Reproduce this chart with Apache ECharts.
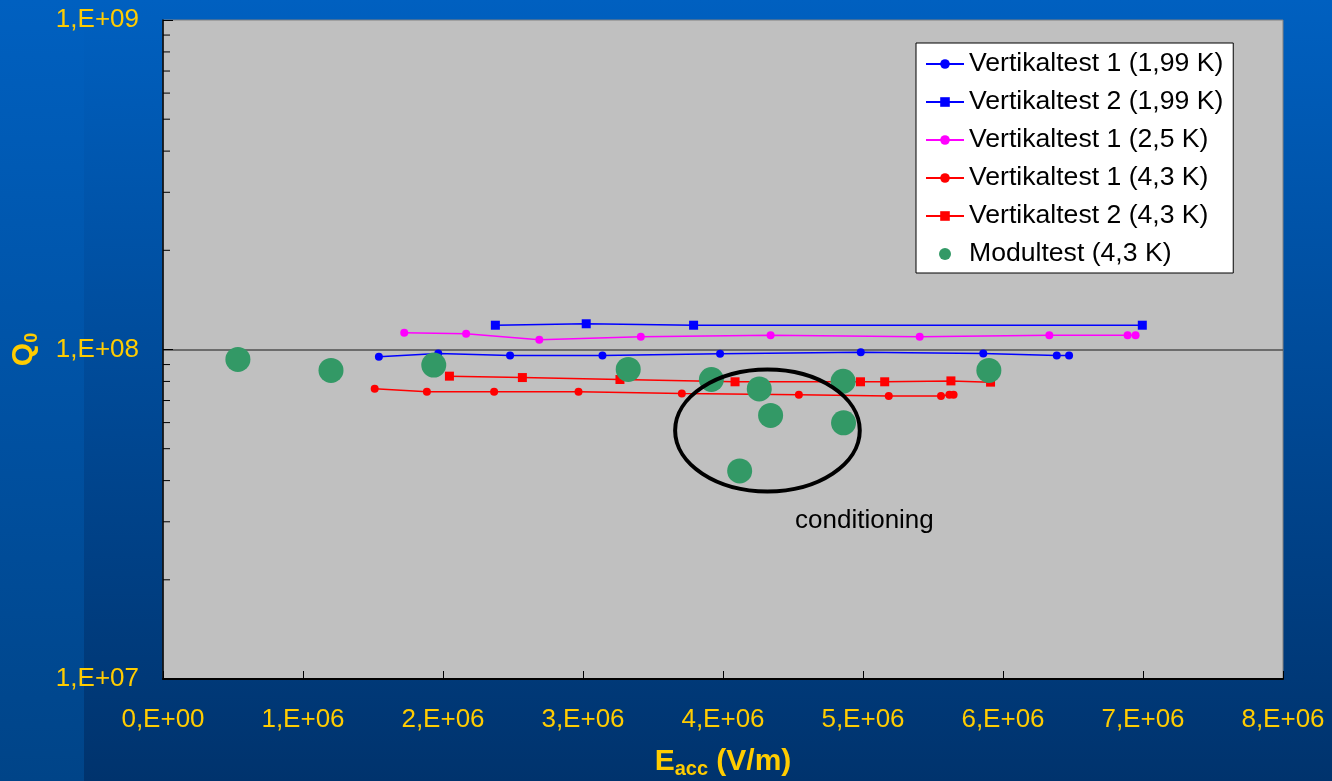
<!DOCTYPE html>
<html><head><meta charset="utf-8">
<script src="https://cdn.jsdelivr.net/npm/echarts@6/dist/echarts.min.js"></script>
<style>
html,body{margin:0;padding:0;width:1332px;height:781px;overflow:hidden;}
body{background:linear-gradient(to bottom,#0060c0,#00336d);position:relative;}
#strip{position:absolute;left:0;top:0;width:84px;height:781px;background:linear-gradient(to bottom,#0060c0,#004488);}
#chart{position:absolute;left:0;top:0;width:1332px;height:781px;}
</style></head><body><div id="strip"></div><div id="chart"></div>
<script>
// ---- data (E_acc in V/m, Q0) ----
const xTickLabels = ['0,E+00','1,E+06','2,E+06','3,E+06','4,E+06','5,E+06','6,E+06','7,E+06','8,E+06'];
const yTickValues = [1e7, 1e8, 1e9];
const yTickLabels = ['1,E+07','1,E+08','1,E+09'];
const yMinorTicks = [2e7,3e7,4e7,5e7,6e7,7e7,8e7,9e7,2e8,3e8,4e8,5e8,6e8,7e8,8e8,9e8];

const seriesNames = ['Vertikaltest 1 (1,99 K)','Vertikaltest 2 (1,99 K)','Vertikaltest 1 (2,5 K)','Vertikaltest 1 (4,3 K)','Vertikaltest 2 (4,3 K)','Modultest (4,3 K)'];

const vt1_199K = [[1.542e6,0.950e8],[1.966e6,0.973e8],[2.479e6,0.959e8],[3.139e6,0.959e8],[3.979e6,0.970e8],[4.984e6,0.981e8],[5.859e6,0.973e8],[6.384e6,0.959e8],[6.472e6,0.959e8]];
const vt2_199K = [[2.374e6,1.185e8],[3.023e6,1.197e8],[3.790e6,1.185e8],[6.995e6,1.185e8]];
const vt1_25K  = [[1.723e6,1.124e8],[2.165e6,1.116e8],[2.688e6,1.070e8],[3.413e6,1.093e8],[4.340e6,1.105e8],[5.405e6,1.093e8],[6.331e6,1.105e8],[6.890e6,1.105e8],[6.947e6,1.105e8]];
const vt1_43K  = [[1.512e6,0.760e8],[1.885e6,0.744e8],[2.365e6,0.744e8],[2.968e6,0.744e8],[3.706e6,0.735e8],[4.542e6,0.729e8],[5.184e6,0.722e8],[5.557e6,0.722e8],[5.617e6,0.729e8],[5.647e6,0.729e8]];
const vt2_43K  = [[2.046e6,0.830e8],[2.567e6,0.822e8],[3.264e6,0.811e8],[4.086e6,0.798e8],[4.982e6,0.798e8],[5.155e6,0.798e8],[5.628e6,0.803e8],[5.911e6,0.796e8]];
const modul43K = [[0.535e6,0.933e8],[1.200e6,0.864e8],[1.934e6,0.897e8],[3.323e6,0.870e8],[3.917e6,0.811e8],[4.119e6,0.428e8],[4.259e6,0.759e8],[4.340e6,0.631e8],[4.858e6,0.801e8],[4.861e6,0.599e8],[5.899e6,0.864e8]];

// annotation (data coordinates)
const ellipseE = [3.658e6, 4.977e6];
const ellipseQ = [3.71e7, 8.69e7];
const noteText = 'conditioning';
const noteAt = [5.01e6, 3.01e7];

const FONT = 'Liberation Sans, Arial, sans-serif';
const YEL = '#ffcc00';

const chart = echarts.init(document.getElementById('chart'), null, {renderer:'canvas'});

function lineSeries(name, data, color, symbol, size){
  return {name, type:'line', data, symbol, symbolSize:size, showSymbol:true,
    lineStyle:{color, width:1.5}, itemStyle:{color}, z:3};
}

const option = {
  animation:false,
  backgroundColor:'transparent',
  grid:{left:163, right:49, top:20, bottom:102, outerBoundsMode:'none', containLabel:false,
    show:true, backgroundColor:'#c0c0c0', borderColor:'#808080', borderWidth:1},
  legend:{
    orient:'vertical', left:916, top:43,
    padding:[7,10,5,9], itemGap:10, itemWidth:38, itemHeight:12,
    backgroundColor:'#ffffff', borderColor:'#000', borderWidth:1, borderRadius:0,
    textStyle:{fontSize:26.6, color:'#000', fontFamily:FONT, lineHeight:28},
    data:seriesNames
  },
  xAxis:{
    type:'value', min:0, max:8e6, interval:1e6,
    name:'{b|E}{s|acc}{b| (V/m)}', nameLocation:'middle', nameGap:66,
    nameTextStyle:{rich:{
      b:{fontSize:30, fontWeight:'bold', color:YEL, fontFamily:FONT, lineHeight:34, verticalAlign:'middle'},
      s:{fontSize:20, fontWeight:'bold', color:YEL, fontFamily:FONT, lineHeight:34, verticalAlign:'bottom'}
    }},
    axisLine:{show:true, onZero:false, lineStyle:{color:'#000', width:2}},
    axisTick:{show:true, inside:true, length:8, lineStyle:{color:'#000', width:1}},
    axisLabel:{color:YEL, fontSize:26, fontFamily:FONT, margin:28,
      formatter:(v)=>xTickLabels[Math.round(v/1e6)]},
    splitLine:{show:false}
  },
  yAxis:{
    type:'log', logBase:10, min:1e7, max:1e9,
    name:'{b|Q}{s|0}', nameLocation:'middle', nameGap:122,
    nameTextStyle:{rich:{
      b:{fontSize:30, fontWeight:'bold', color:YEL, fontFamily:FONT, lineHeight:34, verticalAlign:'middle'},
      s:{fontSize:18, fontWeight:'bold', color:YEL, fontFamily:FONT, lineHeight:34, verticalAlign:'bottom'}
    }},
    axisLine:{show:true, lineStyle:{color:'#000', width:1.5}},
    axisTick:{show:true, inside:true, length:10, lineStyle:{color:'#000', width:1}},
    axisLabel:{color:YEL, fontSize:26, fontFamily:FONT, margin:24,
      formatter:(v)=>{
        let best=0; for(let i=0;i<yTickValues.length;i++){ if(Math.abs(Math.log10(v)-Math.log10(yTickValues[i]))<Math.abs(Math.log10(v)-Math.log10(yTickValues[best]))) best=i; }
        return yTickLabels[best];
      }},
    splitLine:{show:true, showMinLine:false, showMaxLine:false, lineStyle:{color:'#505050', width:1.5}}
  },
  series:[
    lineSeries(seriesNames[0], vt1_199K, '#0000ff', 'circle', 8),
    lineSeries(seriesNames[1], vt2_199K, '#0000ff', 'rect', 9),
    lineSeries(seriesNames[2], vt1_25K, '#ff00ff', 'circle', 8),
    lineSeries(seriesNames[3], vt1_43K, '#ff0000', 'circle', 8),
    lineSeries(seriesNames[4], vt2_43K, '#ff0000', 'rect', 9),
    {name:seriesNames[5], type:'scatter', data:modul43K, symbol:'circle', symbolSize:25,
      itemStyle:{color:'#339966', opacity:1}, z:5},
    {type:'custom', silent:true, z:6, clip:false,
      data:yMinorTicks.map(v=>[0,v]),
      renderItem:(params, api)=>{
        const p = api.coord([api.value(0), api.value(1)]);
        return {type:'line', shape:{x1:p[0], y1:p[1], x2:p[0]+7, y2:p[1]}, style:{stroke:'#000', lineWidth:1}};
      }}
  ]
};
chart.setOption(option);

const tl = chart.convertToPixel({gridIndex:0}, [ellipseE[0], ellipseQ[1]]);
const br = chart.convertToPixel({gridIndex:0}, [ellipseE[1], ellipseQ[0]]);
const np = chart.convertToPixel({gridIndex:0}, noteAt);
chart.setOption({graphic:[
  {type:'ellipse', z:100, silent:true,
    shape:{cx:(tl[0]+br[0])/2, cy:(tl[1]+br[1])/2, rx:(br[0]-tl[0])/2, ry:(br[1]-tl[1])/2},
    style:{fill:'none', stroke:'#000', lineWidth:4}},
  {type:'text', z:100, silent:true, x:np[0], y:np[1],
    style:{text:noteText, fontSize:26, fill:'#000', fontFamily:FONT, align:'center', verticalAlign:'middle'}}
]});
</script></body></html>
